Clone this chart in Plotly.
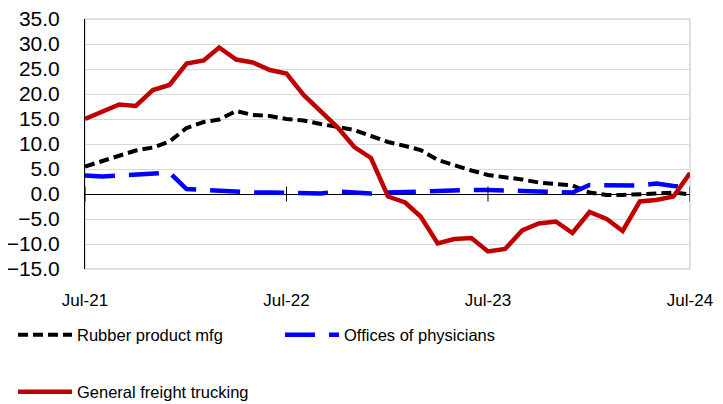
import plotly.graph_objects as go
import pandas as pd

months = pd.date_range("2021-07-01", "2024-07-01", freq="MS")

rubber = [5.5, 6.6, 7.6, 8.7, 9.3, 10.5, 13.2, 14.4, 14.9, 16.6, 15.8, 15.6, 15.0,
          14.7, 14.0, 13.5, 12.8, 11.6, 10.4, 9.6, 8.8, 6.8, 5.7, 4.7, 3.8,
          3.4, 2.9, 2.3, 2.0, 1.7, 0.3, -0.2, -0.2, -0.1, 0.1, 0.3, -0.1]
physicians = [3.7, 3.5, 3.7, 3.9, 4.1, 4.3, 1.0, 0.8, 0.5, 0.3, 0.3, 0.3, 0.2,
              0.2, 0.1, 0.5, 0.3, 0.1, 0.3, 0.4, 0.5, 0.8, 0.8, 0.8, 0.8,
              0.8, 0.6, 0.5, 0.5, 0.3, 1.8, 1.7, 1.7, 1.7, 2.1, 1.6, 1.5]
freight = [15.0, 16.4, 17.9, 17.6, 20.8, 21.8, 26.1, 26.7, 29.3, 26.9, 26.3, 24.8, 24.1,
           19.8, 16.6, 13.4, 9.4, 7.2, -0.5, -1.7, -4.5, -9.9, -9.0, -8.8, -11.5,
           -11.0, -7.3, -5.9, -5.5, -7.8, -3.6, -5.0, -7.4, -1.5, -1.2, -0.5, 4.2]

tick_dates = ["2021-07-01", "2022-07-01", "2023-07-01", "2024-07-01"]
tick_labels = ["Jul-21", "Jul-22", "Jul-23", "Jul-24"]
y_ticks = [-15, -10, -5, 0, 5, 10, 15, 20, 25, 30, 35]

FONT = "Liberation Sans, Arial, sans-serif"

# page has an 8px body margin; the figure is sized to fit inside the window
W, H = 715, 396

fig = go.Figure()
fig.add_trace(go.Scatter(x=months, y=rubber, mode="lines", name="Rubber product mfg",
                         line=dict(color="#000000", width=4, dash="10px,5px"),
                         legend="legend"))
fig.add_trace(go.Scatter(x=months, y=physicians, mode="lines", name="Offices of physicians",
                         line=dict(color="#0000FF", width=4.5, dash="30px,14px"),
                         legend="legend"))
fig.add_trace(go.Scatter(x=months, y=freight, mode="lines", name="General freight trucking",
                         line=dict(color="#C00000", width=4.5),
                         legend="legend2"))

shapes = [dict(type="rect", xref="paper", yref="paper", x0=0, x1=1, y0=0, y1=1,
               line=dict(color="#BFBFBF", width=1), layer="below")]
for d in tick_dates:
    shapes.append(dict(type="line", xref="x", yref="y", x0=d, x1=d, y0=-1.5, y1=1.5,
                       line=dict(color="#000000", width=1)))

fig.update_layout(
    width=W, height=H,
    margin=dict(l=77, r=33, t=11, b=135, autoexpand=False),
    paper_bgcolor="white", plot_bgcolor="white",
    font=dict(family=FONT, color="#000000"),
    shapes=shapes,
    xaxis=dict(range=[tick_dates[0], tick_dates[-1]], tickvals=tick_dates, ticktext=tick_labels,
               showgrid=False, zeroline=False, showline=False, ticks="", automargin=False,
               tickfont=dict(size=17, family=FONT), ticklabelstandoff=19,
               ticklabeloverflow="allow"),
    yaxis=dict(range=[-15, 35], tickvals=y_ticks, tickformat=".1f", automargin=False,
               showgrid=True, gridcolor="#D9D9D9", gridwidth=1,
               zeroline=True, zerolinecolor="#000000", zerolinewidth=1,
               showline=True, linecolor="#000000", linewidth=1, ticks="",
               tickfont=dict(size=21, family=FONT), ticklabelstandoff=20,
               ticklabeloverflow="allow"),
    legend=dict(orientation="h", xref="container", yref="container",
                x=0.007, xanchor="left", y=1 - (335 - 8) / H, yanchor="middle",
                font=dict(size=16.5, family=FONT), entrywidth=198, itemwidth=54,
                bgcolor="rgba(0,0,0,0)"),
    legend2=dict(orientation="h", xref="container", yref="container",
                 x=0.007, xanchor="left", y=1 - (392 - 8) / H, yanchor="middle",
                 font=dict(size=16.5, family=FONT), itemwidth=54,
                 bgcolor="rgba(0,0,0,0)"),
    showlegend=True,
)

fig.write_html("out.html")
